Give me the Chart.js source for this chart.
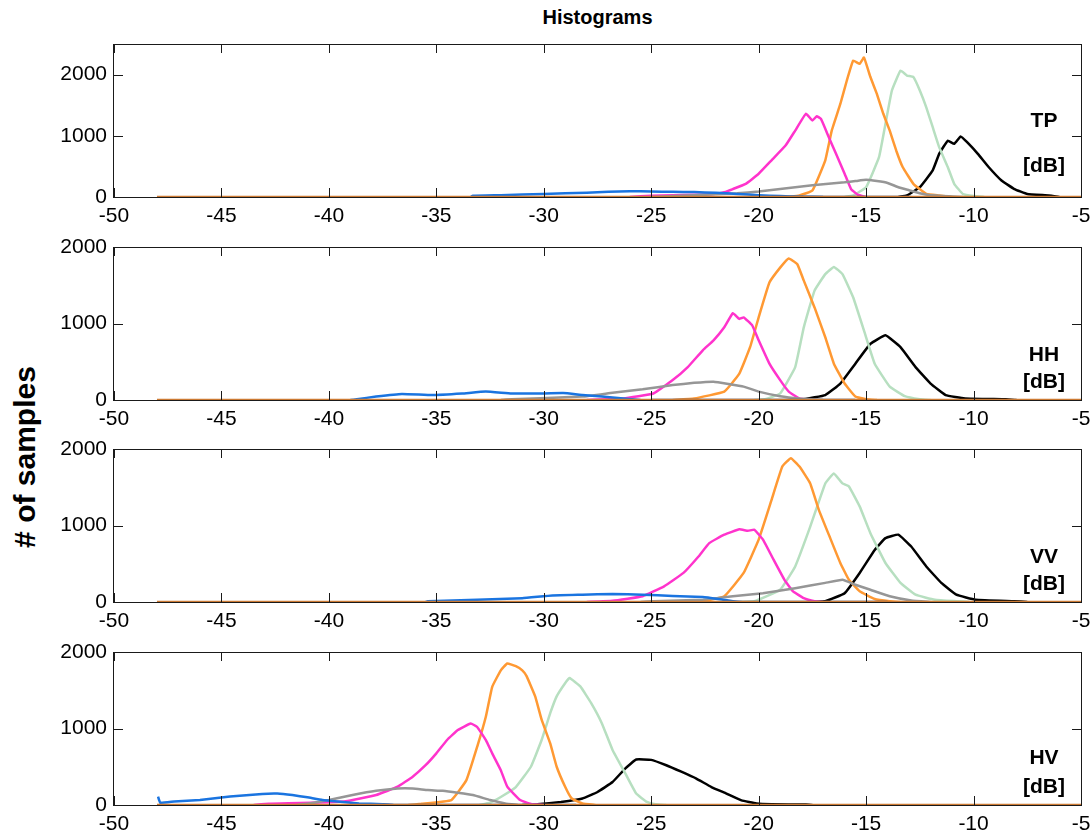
<!DOCTYPE html>
<html>
<head>
<meta charset="utf-8">
<title>Histograms</title>
<script src="https://cdn.jsdelivr.net/npm/chart.js@4.4.0/dist/chart.umd.min.js"></script>
<style>
    body { margin: 0; background: #fff; width: 1091px; height: 837px; overflow: hidden; position: relative; font-family: "Liberation Sans", Arial, sans-serif; }
    canvas { position: absolute; left: 0; }
    #title { position: absolute; left: 0; width: 1195px; top: 6px; text-align: center; font-weight: bold; font-size: 20px; }
    #ylabel { position: absolute; left: 25px; top: 457px; font-weight: bold; font-size: 30px; white-space: nowrap;
              transform: translate(-50%, -50%) rotate(-90deg); }
</style>
</head>
<body>
<div id="title">Histograms</div>
<div id="ylabel"># of samples</div>

<script>
// Axis ticks shared by the four panels
const xTicks = [-50, -45, -40, -35, -30, -25, -20, -15, -10, -5];
const yTicks = [0, 1000, 2000];

const panelNames = ['TP', 'HH', 'VV', 'HV'];
const yMaxes = [2500, 2000, 2000, 2000];

// Histogram curves, [dB, # of samples]
// --- TP ---
const tpBlue = [[-33.4,0],[-33.3,20],[-32,30],[-30,50],[-28,70],[-27,85],[-26,95],[-25,90],[-24,85],[-23,80],[-22,70],[-21,50],[-20,30],[-19,15],[-18,5],[-17,0]];
const tpGray = [[-25,0],[-23,30],[-21,60],[-20,90],[-19,130],[-18,170],[-17,210],[-16,240],[-15.5,260],[-15,280],[-14.5,260],[-14,230],[-13.5,160],[-13,110],[-12.5,60],[-12,30],[-11,10],[-10.5,0]];
const tpMagenta = [[-26,0],[-25,20],[-23,35],[-22,55],[-21.6,80],[-21.2,130],[-20.6,215],[-20,380],[-19.4,600],[-18.75,840],[-18.3,1085],[-17.8,1360],[-17.5,1250],[-17.3,1320],[-17.1,1275],[-16.8,1030],[-16.4,705],[-16,380],[-15.7,130],[-15.4,40],[-15,0]];
const tpOrange = [[-18.6,0],[-18.1,25],[-17.5,105],[-16.9,600],[-16.6,1085],[-16.2,1520],[-15.9,1900],[-15.6,2230],[-15.3,2175],[-15.1,2280],[-14.8,1960],[-14.5,1685],[-14.2,1360],[-13.9,1085],[-13.6,760],[-13.3,490],[-12.8,215],[-12.2,50],[-11.6,25],[-11,0]];
const tpGreen = [[-16,0],[-15.6,25],[-15,160],[-14.4,650],[-14.1,1195],[-13.8,1740],[-13.4,2065],[-13.1,1985],[-12.8,1960],[-12.5,1740],[-12.2,1465],[-11.9,1140],[-11.6,815],[-11.2,490],[-10.9,215],[-10.5,50],[-10,15],[-9.5,0]];
const tpBlack = [[-13.5,0],[-13.1,25],[-12.5,160],[-11.9,435],[-11.6,705],[-11.2,920],[-10.9,870],[-10.6,990],[-10.3,895],[-9.8,705],[-9.3,490],[-8.7,270],[-8.1,130],[-7.5,50],[-6.5,25],[-6,0]];
const tpNavy = [[-19.4,0],[-12.9,0]];

// --- HH ---
const hhBlue = [[-39,0],[-38.7,10],[-37.8,45],[-36.6,80],[-35.2,65],[-33.8,85],[-32.7,110],[-31.5,85],[-30.3,85],[-29.1,90],[-28.2,65],[-27.3,45],[-26.3,20],[-25.5,0]];
const hhGray = [[-32,0],[-31.5,10],[-28.2,45],[-26.8,95],[-25.4,140],[-24,195],[-23,225],[-22.1,240],[-21.4,210],[-20.7,175],[-20,110],[-19,50],[-18.1,20],[-17,0]];
const hhMagenta = [[-28,0],[-26.3,20],[-24.9,85],[-24,260],[-23.3,430],[-22.6,650],[-22.1,780],[-21.6,950],[-21.2,1135],[-20.9,1060],[-20.7,1080],[-20.3,975],[-20,780],[-19.5,475],[-19,260],[-18.6,110],[-18.1,20],[-17.6,0]];
const hhOrange = [[-24,0],[-23,20],[-21.6,110],[-20.9,345],[-20.4,690],[-20,1080],[-19.5,1535],[-19,1730],[-18.6,1850],[-18.2,1775],[-17.9,1560],[-17.4,1210],[-16.9,820],[-16.5,475],[-16,215],[-15.5,45],[-15,10],[-14.5,0]];
const hhGreen = [[-20.2,0],[-19.7,10],[-19,85],[-18.3,430],[-17.9,950],[-17.4,1430],[-16.9,1645],[-16.5,1740],[-16.1,1645],[-15.6,1340],[-15.05,865],[-14.6,475],[-13.9,175],[-13.2,50],[-12.5,10],[-12,0]];
const hhBlack = [[-18.5,0],[-17.9,10],[-16.9,65],[-16.2,215],[-15.5,475],[-14.8,735],[-14.1,845],[-13.4,690],[-12.7,430],[-12,215],[-11.3,65],[-10.4,20],[-8.5,10],[-8,0]];
const hhNavy = [[-25,0],[-15.5,0]];

// --- VV ---
const vvBlue = [[-35.5,0],[-35.4,10],[-33.1,30],[-31,50],[-29.6,85],[-28.2,95],[-26.8,105],[-25.4,95],[-24,80],[-22.6,65],[-21.9,40],[-21.2,10],[-20.8,0]];
const vvGray = [[-25.5,0],[-24.9,10],[-22.6,30],[-21.2,75],[-19.8,115],[-18.3,180],[-16.9,250],[-16.1,290],[-15.5,225],[-14.8,160],[-13.9,75],[-12.9,20],[-12,0]];
const vvMagenta = [[-28,0],[-26.8,15],[-25.4,75],[-24.4,205],[-23.5,380],[-22.8,595],[-22.3,770],[-21.6,880],[-20.9,950],[-20.5,930],[-20.2,945],[-19.8,815],[-19.3,550],[-18.8,290],[-18.4,140],[-17.9,50],[-17.4,10],[-17,0]];
const vvOrange = [[-23.2,0],[-22.6,10],[-21.6,75],[-20.7,380],[-20,815],[-19.4,1335],[-18.9,1770],[-18.5,1880],[-18.1,1770],[-17.6,1550],[-17.2,1205],[-16.7,855],[-16.2,510],[-15.8,290],[-15.3,140],[-14.6,40],[-13.9,10],[-13.4,0]];
const vvGreen = [[-20.8,0],[-20.2,10],[-19,160],[-18.3,465],[-17.6,985],[-16.9,1550],[-16.5,1680],[-16.1,1550],[-15.8,1510],[-15.3,1250],[-14.8,900],[-14.1,510],[-13.4,250],[-12.7,95],[-11.8,30],[-10.8,10],[-10.2,0]];
const vvBlack = [[-17.5,0],[-16.9,10],[-16,115],[-15.3,380],[-14.6,680],[-14.1,835],[-13.5,880],[-12.9,725],[-12.2,465],[-11.5,250],[-10.8,95],[-9.9,30],[-8.1,10],[-7.5,0]];
const vvNavy = [[-21.7,0],[-14,0]];

// --- HV ---
const hvBlue = [[-47.95,110],[-47.85,30],[-47.2,45],[-46,65],[-44.6,110],[-43.1,145],[-42.4,150],[-41.7,130],[-41,100],[-40.3,65],[-39.6,45],[-38.6,20],[-37.5,10],[-37,0]];
const hvGray = [[-41.5,0],[-41,15],[-40,65],[-38.9,130],[-37.8,185],[-36.8,215],[-36.1,215],[-35.4,195],[-34.7,185],[-34,160],[-33.3,130],[-32.5,65],[-31.8,20],[-31.2,0]];
const hvMagenta = [[-43.5,0],[-42.8,15],[-39.3,45],[-37.8,130],[-36.8,240],[-36.1,370],[-35.5,520],[-35,675],[-34.5,850],[-34,980],[-33.4,1065],[-33.1,1020],[-32.7,850],[-32.4,675],[-32,455],[-31.7,240],[-31.1,65],[-30.6,15],[-30,0]];
const hvOrange = [[-36.3,0],[-35.7,15],[-34.3,65],[-33.6,325],[-33.1,760],[-32.7,1150],[-32.4,1545],[-32,1760],[-31.7,1850],[-31.3,1815],[-31,1760],[-30.8,1685],[-30.4,1420],[-30.1,1115],[-29.7,805],[-29.4,500],[-29,235],[-28.7,85],[-28.2,20],[-27.6,0]];
const hvGreen = [[-33,0],[-32.5,30],[-32,105],[-31.3,235],[-30.6,500],[-30.1,850],[-29.7,1200],[-29.4,1420],[-29,1595],[-28.8,1660],[-28.3,1550],[-27.8,1335],[-27.3,1070],[-26.8,720],[-26.2,410],[-25.7,150],[-25.2,40],[-24.8,10],[-24.3,0]];
const hvBlack = [[-31,0],[-30.3,10],[-29.2,40],[-28.2,85],[-27.5,170],[-26.8,300],[-26.2,480],[-25.7,595],[-25,590],[-24.3,520],[-23.6,435],[-22.9,345],[-22.2,235],[-21.5,150],[-20.8,60],[-20.1,20],[-19.4,10],[-17.8,5],[-17.5,0]];
const hvNavy = [[-37.5,0],[-28.5,0]];

// zero line drawn under every panel
const baseline = [[-48,0],[-5,0]];

const panelSeries = [
    [tpNavy, tpBlue, tpGray, tpMagenta, tpOrange, tpGreen, tpBlack],
    [hhNavy, hhBlue, hhGray, hhMagenta, hhOrange, hhGreen, hhBlack],
    [vvNavy, vvBlue, vvGray, vvMagenta, vvOrange, vvGreen, vvBlack],
    [hvNavy, hvBlue, hvGray, hvMagenta, hvOrange, hvGreen, hvBlack]
];

// ---------- styling / layout (not data) ----------
const seriesColors = ['#1f4f9c', '#1a74e0', '#969696', '#ff33cc', '#ff9933', '#b7dfc0', '#000000'];
const baselineColor = '#cc7a33';
const FONT = '"Liberation Sans", Arial, sans-serif';

const panelTops = [44, 247, 449, 652];
const PLOT_H = 153;
const PAD_TOP = 14;
const X_AXIS_H = 32;
const Y_AXIS_W = 114;
const PAD_RIGHT = 10;
// y offsets (from the plot top) of the name and the "[dB]" label
const labelOffsets = [[77, 122], [108, 135], [108, 135], [106, 135]];

// MATLAB-like box with inward ticks on all four sides, plus the panel label
const boxPlugin = {
    id: 'matlabBox',
    afterDatasetsDraw(chart, args, opts) {
        const { ctx, chartArea: a, scales } = chart;
        const tl = 9;
        ctx.save();
        ctx.strokeStyle = '#1a1a1a';
        ctx.lineWidth = 1;
        ctx.beginPath();
        xTicks.forEach(v => {
            const px = Math.round(scales.x.getPixelForValue(v)) + 0.5;
            ctx.moveTo(px, a.top); ctx.lineTo(px, a.top + tl);
            ctx.moveTo(px, a.bottom); ctx.lineTo(px, a.bottom - tl);
        });
        yTicks.forEach(v => {
            const py = Math.round(scales.y.getPixelForValue(v)) + 0.5;
            ctx.moveTo(a.left, py); ctx.lineTo(a.left + tl, py);
            ctx.moveTo(a.right, py); ctx.lineTo(a.right - tl, py);
        });
        ctx.stroke();
        ctx.strokeRect(Math.round(a.left) - 0.5, Math.round(a.top) + 0.5,
                       Math.round(a.right - a.left) + 1, Math.round(a.bottom - a.top));

        // panel name and unit
        ctx.fillStyle = '#000';
        ctx.font = 'bold 21px ' + FONT;
        ctx.textAlign = 'center';
        ctx.textBaseline = 'middle';
        ctx.fillText(opts.name, a.right - 37, a.top + opts.offsets[0]);
        ctx.fillText('[dB]', a.right - 37, a.top + opts.offsets[1]);
        ctx.restore();
    }
};

function buildDatasets(series) {
    const sets = [{
        data: baseline.map(p => ({ x: p[0], y: p[1] })),
        borderColor: baselineColor,
        borderWidth: 2.5
    }];
    series.forEach((s, i) => {
        sets.push({
            data: s.map(p => ({ x: p[0], y: p[1] })),
            borderColor: seriesColors[i],
            borderWidth: 2.5
        });
    });
    return sets;
}

function makePanel(idx) {
    const canvas = document.createElement('canvas');
    canvas.width = 1091;
    canvas.height = PAD_TOP + PLOT_H + X_AXIS_H;
    canvas.style.top = (panelTops[idx] - PAD_TOP) + 'px';
    document.body.appendChild(canvas);

    const tickFont = { family: FONT, size: 21 };

    new Chart(canvas.getContext('2d'), {
        type: 'line',
        data: { datasets: buildDatasets(panelSeries[idx]) },
        options: {
            responsive: false,
            animation: false,
            layout: { padding: { top: PAD_TOP, right: PAD_RIGHT, left: 0, bottom: 0 } },
            elements: {
                point: { radius: 0 },
                line: { tension: 0.1, borderJoinStyle: 'round' }
            },
            plugins: {
                legend: { display: false },
                tooltip: { enabled: false },
                matlabBox: { name: panelNames[idx], offsets: labelOffsets[idx] }
            },
            scales: {
                x: {
                    type: 'linear',
                    min: -50,
                    max: -5,
                    afterBuildTicks: scale => { scale.ticks = xTicks.map(v => ({ value: v })); },
                    afterFit: scale => {
                        scale.height = X_AXIS_H;
                        scale.paddingLeft = 0;
                        scale.paddingRight = 0;
                    },
                    grid: { display: false, drawTicks: false },
                    border: { display: false },
                    ticks: { color: '#000', font: tickFont, padding: 7, maxRotation: 0, autoSkip: false,
                             callback: v => String(v) }
                },
                y: {
                    min: 0,
                    max: yMaxes[idx],
                    afterBuildTicks: scale => { scale.ticks = yTicks.map(v => ({ value: v })); },
                    afterFit: scale => {
                        scale.width = Y_AXIS_W;
                        scale.paddingTop = 0;
                        scale.paddingBottom = 0;
                    },
                    grid: { display: false, drawTicks: false },
                    border: { display: false },
                    ticks: { color: '#000', font: tickFont, padding: 7, callback: v => String(v) }
                }
            }
        },
        plugins: [boxPlugin]
    });
}

document.addEventListener('DOMContentLoaded', function() {
    panelNames.forEach((name, i) => makePanel(i));
});
</script>
</body>
</html>
